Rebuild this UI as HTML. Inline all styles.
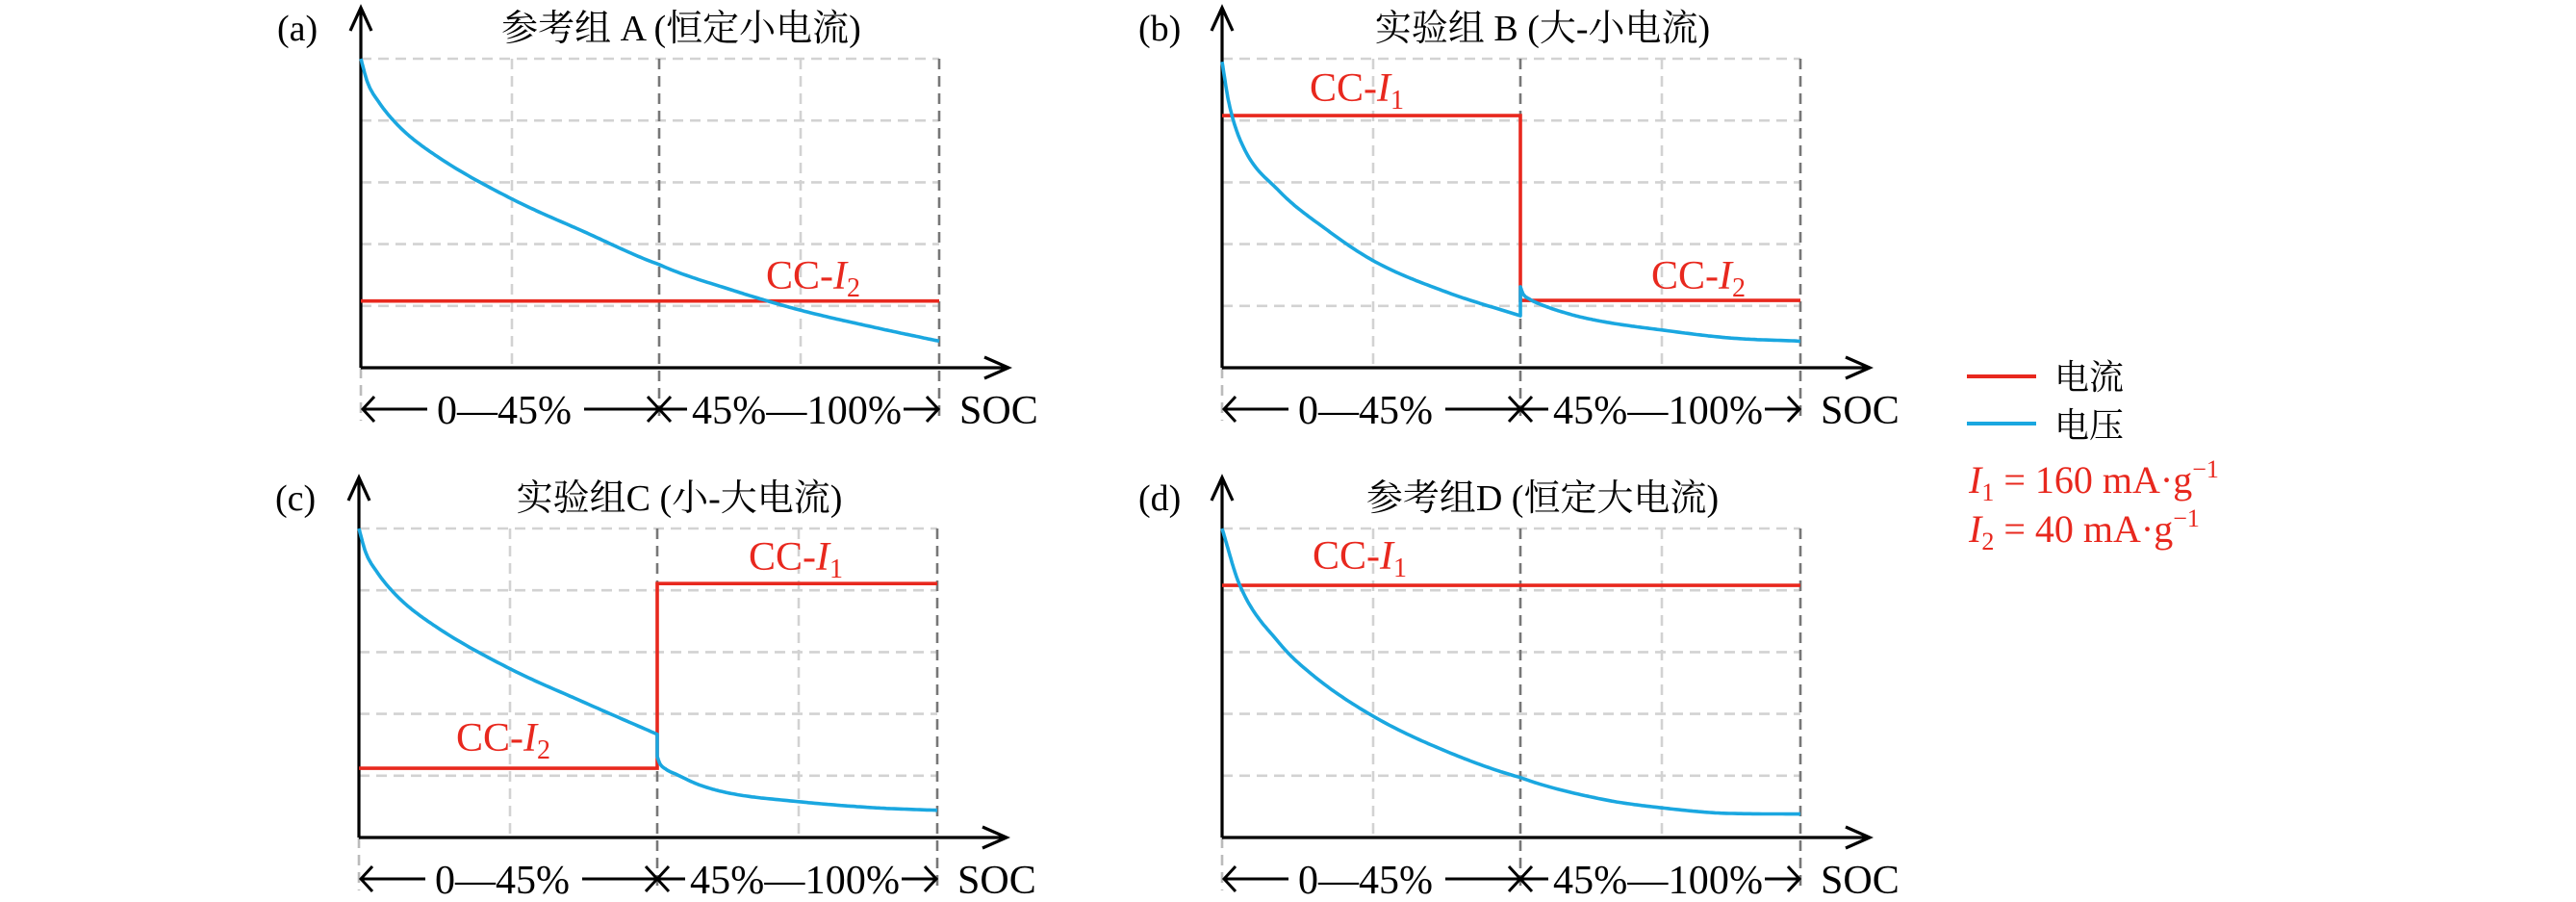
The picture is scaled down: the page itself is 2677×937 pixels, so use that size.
<!DOCTYPE html>
<html><head><meta charset="utf-8">
<style>
html,body{margin:0;padding:0;background:#fff;}
svg{display:block;}
text{font-family:"Liberation Serif","Noto Serif CJK SC","Noto Sans CJK SC",serif;}
</style></head>
<body>
<svg id="chart" width="2677" height="937" viewBox="0 0 2677 937" xmlns="http://www.w3.org/2000/svg">
<g id="panels"></g>
<g>
  <line x1="2044" y1="391" x2="2116" y2="391" stroke="#e8281e" stroke-width="4"/>
  <text x="2135" y="404" font-size="36" fill="#000">电流</text>
  <line x1="2044" y1="440" x2="2116" y2="440" stroke="#1aa7e0" stroke-width="4"/>
  <text x="2135" y="454" font-size="36" fill="#000">电压</text>
  <text x="2046" y="512" font-size="40" fill="#e8281e"><tspan font-style="italic">I</tspan><tspan font-size="26" dy="8">1</tspan><tspan dy="-8"> = 160 mA·g</tspan><tspan font-size="26" dy="-16">−1</tspan></text>
  <text x="2046" y="563" font-size="40" fill="#e8281e"><tspan font-style="italic">I</tspan><tspan font-size="26" dy="8">2</tspan><tspan dy="-8"> = 40 mA·g</tspan><tspan font-size="26" dy="-16">−1</tspan></text>
</g>
</svg>
<script>
// SOC values (%) and voltage levels (grid units 0..5) per panel
const socA = [0, 1, 2.7, 6, 11.5, 22.8, 33.7, 45, 59.2, 72.8, 88, 100];
const voltA = [5, 4.62, 4.3, 3.88, 3.42, 2.73, 2.2, 1.67, 1.26, 0.93, 0.64, 0.43];
const socB1 = [0, 1, 3, 8.6, 15.7, 23, 33.7, 45];
const voltB1 = [4.95, 4.3, 3.62, 2.86, 2.24, 1.72, 1.23, 0.84];
const socB2 = [45, 45.5, 46.8, 48.8, 55, 61, 72.8, 86.4, 100];
const voltB2 = [1.31, 1.2, 1.11, 1.03, 0.86, 0.75, 0.61, 0.48, 0.43];
const socC1 = [0, 1, 2.7, 6, 11.5, 22.8, 33.7, 45];
const voltC1 = [5, 4.62, 4.3, 3.88, 3.42, 2.73, 2.2, 1.67];
const socC2 = [45, 45.5, 46.8, 48.8, 53, 59, 72.8, 88, 100];
const voltC2 = [1.31, 1.2, 1.1, 1.02, 0.86, 0.72, 0.58, 0.48, 0.44];
const socD = [0, 2.6, 8.6, 14, 23, 33.7, 45, 61, 72.8, 86, 100];
const voltD = [5, 4.1, 3.15, 2.6, 1.95, 1.4, 0.97, 0.62, 0.48, 0.39, 0.38];
// current steps: [socStart, socEnd, level]
const currA = [[0, 100, 1.08]];
const currB = [[0, 45, 4.08], [45, 100, 1.09]];
const currC = [[0, 45, 1.12], [45, 100, 4.11]];
const currD = [[0, 100, 4.08]];
const titles = ["参考组 A (恒定小电流)", "实验组 B (大-小电流)", "实验组C (小-大电流)", "参考组D (恒定大电流)"];
const tags = ["(a)", "(b)", "(c)", "(d)"];

const NS = "http://www.w3.org/2000/svg";
const root = document.getElementById("panels");
const RED = "#e8281e", BLUE = "#1aa7e0";

function mk(tag, attrs, parent) {
  const e = document.createElementNS(NS, tag);
  for (const k in attrs) e.setAttribute(k, attrs[k]);
  parent.appendChild(e);
  return e;
}
// monotone cubic (Fritsch-Carlson) interpolation sampled densely
function monotone(xs, ys) {
  const n = xs.length, d = [], m = [];
  for (let i = 0; i < n - 1; i++) d.push((ys[i + 1] - ys[i]) / (xs[i + 1] - xs[i]));
  m[0] = d[0]; m[n - 1] = d[n - 2];
  for (let i = 1; i < n - 1; i++) m[i] = (d[i - 1] * d[i] <= 0) ? 0 : (d[i - 1] + d[i]) / 2;
  for (let i = 0; i < n - 1; i++) {
    if (d[i] === 0) { m[i] = 0; m[i + 1] = 0; continue; }
    const a = m[i] / d[i], b = m[i + 1] / d[i], s = a * a + b * b;
    if (s > 9) { const t = 3 / Math.sqrt(s); m[i] = t * a * d[i]; m[i + 1] = t * b * d[i]; }
  }
  const out = [];
  for (let i = 0; i < n - 1; i++) {
    const h = xs[i + 1] - xs[i];
    const steps = 24;
    for (let k = (i === 0 ? 0 : 1); k <= steps; k++) {
      const t = k / steps, t2 = t * t, t3 = t2 * t;
      const y = (2 * t3 - 3 * t2 + 1) * ys[i] + (t3 - 2 * t2 + t) * h * m[i] + (-2 * t3 + 3 * t2) * ys[i + 1] + (t3 - t2) * h * m[i + 1];
      out.push([xs[i] + t * h, y]);
    }
  }
  return out;
}

const panels = [
  {ox: 375, oy: 382, volt: [[socA, voltA]], curr: currA, labels: [["2", 796, 300]], id: "a"},
  {ox: 1270, oy: 382, volt: [[socB1, voltB1], [socB2, voltB2]], curr: currB, labels: [["1", 1361, 105], ["2", 1716, 300]], id: "b"},
  {ox: 373, oy: 870, volt: [[socC1, voltC1], [socC2, voltC2]], curr: currC, labels: [["2", 474, 780], ["1", 778, 592]], id: "c"},
  {ox: 1270, oy: 870, volt: [[socD, voltD]], curr: currD, labels: [["1", 1364, 591]], id: "d"}
];

panels.forEach((p, i) => {
  const g = mk("g", {}, root);
  
  
  const X = s => s <= 45 ? p.ox + s / 45 * 310 : p.ox + 310 + (s - 45) / 55 * 291;
  const Y = v => p.oy - v * 64.2;
  for (let k = 1; k <= 5; k++) {
    const l = mk("line", {x1: p.ox, x2: X(100), y1: Y(k), y2: Y(k), stroke: "#d2d2d2", "stroke-width": 2.6, "stroke-dasharray": "11 7"}, g);
    
    
  }
  [157, 457].forEach(dx => {
    const l = mk("line", {x1: p.ox + dx, x2: p.ox + dx, y1: Y(5), y2: p.oy, stroke: "#d2d2d2", "stroke-width": 2.6, "stroke-dasharray": "11 7"}, g);
    
    
  });
  const l0 = mk("line", {x1: p.ox, x2: p.ox, y1: p.oy, y2: p.oy + 55, stroke: "#bbb", "stroke-width": 2.6, "stroke-dasharray": "11 7"}, g);
  
  
  [45, 100].forEach(s => {
    const l = mk("line", {x1: X(s), x2: X(s), y1: Y(5), y2: p.oy + 55, stroke: "#777", "stroke-width": 2.6, "stroke-dasharray": "11 7"}, g);
    
    
  });
  const ya = mk("path", {d: `M${p.ox} ${p.oy} V${p.oy - 372} M${p.ox - 11} ${p.oy - 350} L${p.ox} ${p.oy - 374} L${p.ox + 11} ${p.oy - 350}`, stroke: "#000", "stroke-width": 3.2, fill: "none"}, g);
  
  
  const xa = mk("path", {d: `M${p.ox} ${p.oy} H${p.ox + 672} M${p.ox + 648} ${p.oy - 11} L${p.ox + 673} ${p.oy} L${p.ox + 648} ${p.oy + 11}`, stroke: "#000", "stroke-width": 3.2, fill: "none"}, g);
  
  
  let d = "";
  p.curr.forEach((c, j) => {
    d += (j === 0 ? "M" : "L") + X(c[0]) + " " + Y(c[2]) + " L" + X(c[1]) + " " + Y(c[2]) + " ";
  });
  const cp = mk("path", {d: d, stroke: RED, "stroke-width": 3.6, fill: "none"}, g);
  
  
  let vd = "";
  p.volt.forEach(([s, v], j) => {
    monotone(s, v).forEach((pt, k) => {
      vd += ((j === 0 && k === 0) ? "M" : "L") + X(pt[0]).toFixed(1) + " " + Y(pt[1]).toFixed(1) + " ";
    });
  });
  const vp = mk("path", {d: vd, stroke: BLUE, "stroke-width": 3.6, fill: "none", "stroke-linejoin": "round"}, g);
  
  
  p.labels.forEach(lb => {
    const t = mk("text", {x: lb[1], y: lb[2], "font-size": 42, fill: RED}, g);
    
    
    t.innerHTML = 'CC-<tspan font-style="italic">I</tspan><tspan font-size="28" dy="8">' + lb[0] + '</tspan>';
  });
  const tt = mk("text", {x: p.ox + 333, y: p.oy - 340, "font-size": 38, "text-anchor": "middle", fill: "#000"}, g);
  
  
  tt.textContent = titles[i];
  const tg = mk("text", {x: p.ox - 87, y: p.oy - 340, "font-size": 38, fill: "#000"}, g);
  
  
  tg.textContent = tags[i];
  const by = p.oy + 43;
  const ann = mk("path", {d: `M${p.ox + 2} ${by} H${p.ox + 69} M${p.ox + 14} ${by - 13} L${p.ox + 2} ${by} L${p.ox + 14} ${by + 13} M${p.ox + 232} ${by} H${p.ox + 339} M${X(45) - 12} ${by - 13} L${X(45) + 12} ${by + 13} M${X(45) - 12} ${by + 13} L${X(45) + 12} ${by - 13} M${p.ox + 564} ${by} H${X(100) - 1} M${X(100) - 13} ${by - 13} L${X(100) - 1} ${by} L${X(100) - 13} ${by + 13}`, stroke: "#000", "stroke-width": 3, fill: "none"}, g);
  
  
  const t1 = mk("text", {x: p.ox + 79, y: by + 15, "font-size": 42, fill: "#000"}, g);
  
  
  t1.textContent = "0—45%";
  const t2 = mk("text", {x: p.ox + 344, y: by + 15, "font-size": 42, fill: "#000", textLength: 218}, g);
  
  
  t2.textContent = "45%—100%";
  const t3 = mk("text", {x: p.ox + 622, y: by + 15, "font-size": 42, fill: "#000"}, g);
  
  
  t3.textContent = "SOC";
});
</script>
</body></html>
